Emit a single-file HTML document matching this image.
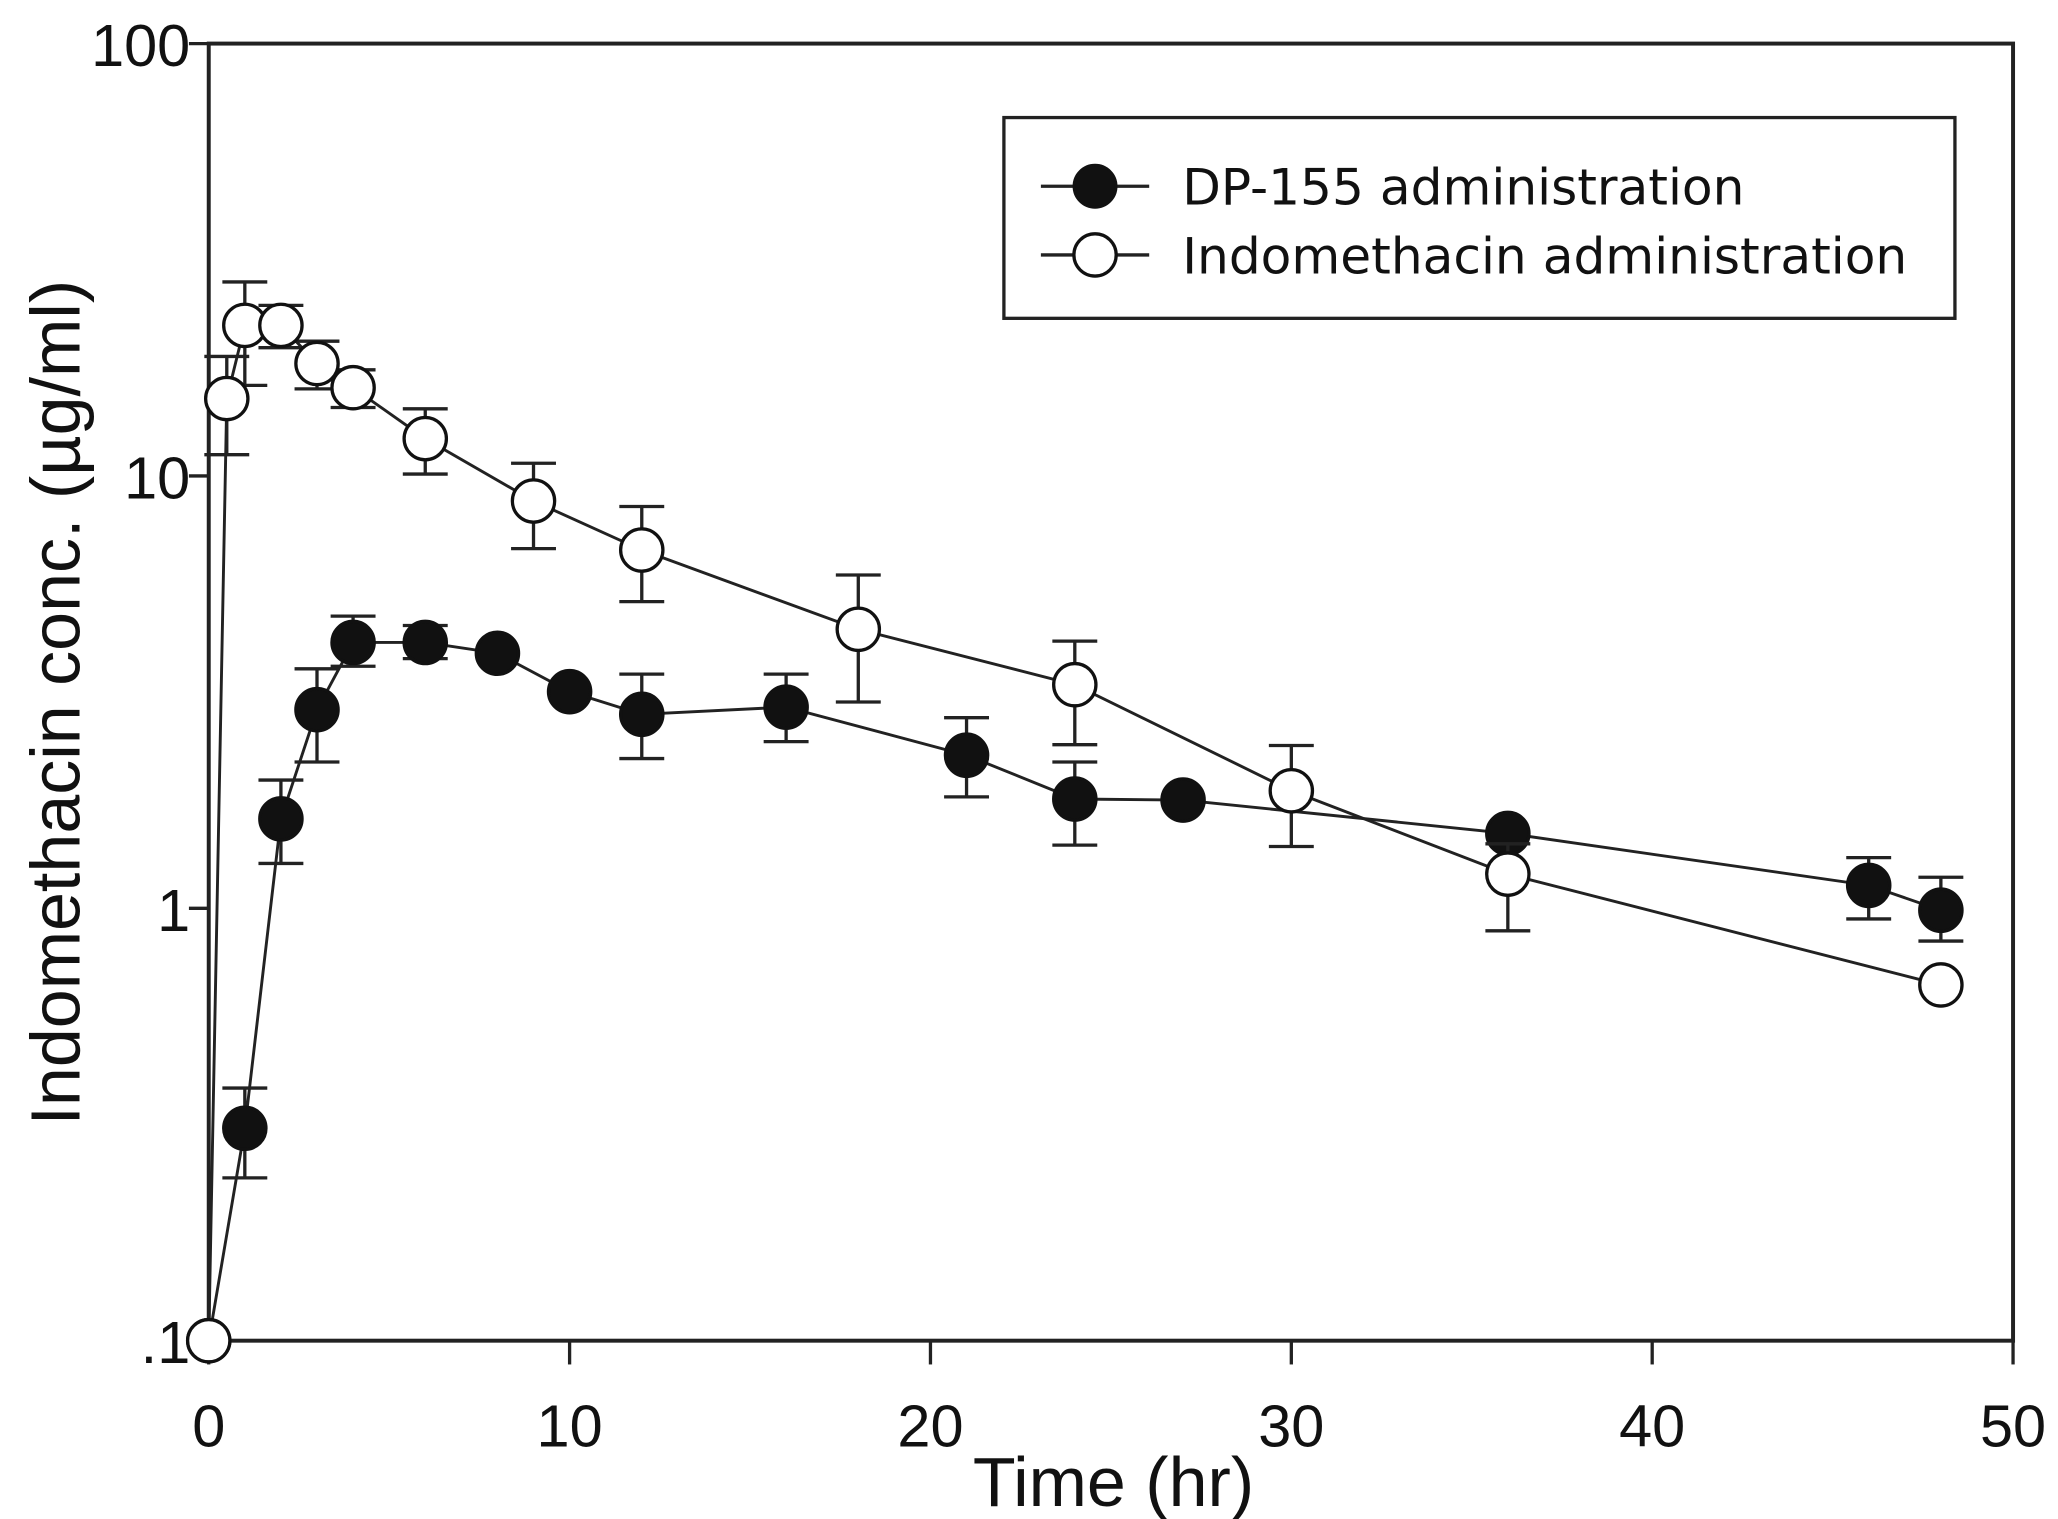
<!DOCTYPE html>
<html><head><meta charset="utf-8"><style>
html,body{margin:0;padding:0;background:#fff}
svg{display:block}
text{font-family:"Liberation Sans",sans-serif;fill:#111}
</style></head><body>
<svg id="chart" width="2058" height="1519" viewBox="0 0 1558 1150" xmlns="http://www.w3.org/2000/svg">
<g id="axes"></g>
<g id="series"></g>
<g id="legend">
<rect x="760" y="89" width="720" height="152" fill="#fff" stroke="#222" stroke-width="2.5"/>
<g>
<line x1="788" y1="141" x2="870" y2="141" stroke="#222" stroke-width="2.5"/>
<circle cx="829" cy="141" r="16" fill="#111" stroke="#111" stroke-width="2"/>
<text x="895" y="155" font-size="38" font-family="DejaVu Sans, sans-serif" style="font-family:'DejaVu Sans',sans-serif">DP-155 administration</text>
</g>
<g>
<line x1="788" y1="193" x2="870" y2="193" stroke="#222" stroke-width="2.5"/>
<circle cx="829" cy="193" r="16" fill="#fff" stroke="#111" stroke-width="2.5"/>
<text x="895" y="207" font-size="38" style="font-family:'DejaVu Sans',sans-serif">Indomethacin administration</text>
</g>
</g>
<text transform="translate(60,532) rotate(-90)" text-anchor="middle" font-size="53">Indomethacin conc. (µg/ml)</text>
<text x="843" y="1140" text-anchor="middle" font-size="53">Time (hr)</text>
</svg>
<script>
const xTicks=[0,10,20,30,40,50];
const yTicks=[0.1,1,10,100];
const yTickLabels=[".1","1","10","100"];
const dpTime=[0,1,2,3,4,6,8,10,12,16,21,24,27,36,46,48];
const dpConc=[0.1,0.31,1.61,2.88,4.12,4.12,3.89,3.17,2.81,2.92,2.26,1.79,1.78,1.49,1.13,0.99];
const dpHi=[0.1,0.384,1.98,3.58,4.74,4.51,3.89,3.17,3.48,3.48,2.76,2.18,1.78,1.49,1.31,1.18];
const dpLo=[0.1,0.238,1.27,2.18,3.63,3.78,3.89,3.17,2.22,2.43,1.81,1.40,1.78,1.49,0.945,0.84];
const inTime=[0,0.5,1,2,3,4,6,9,12,18,24,30,36,48];
const inConc=[0.1,15.1,22.3,22.3,18.2,16.0,12.2,8.75,6.74,4.42,3.29,1.87,1.20,0.665];
const inHi=[0.1,18.9,28.1,24.8,20.5,17.6,14.3,10.7,8.5,5.9,4.15,2.38,1.41,0.665];
const inLo=[0.1,11.2,16.2,19.8,15.9,14.4,10.1,6.79,5.12,3.0,2.39,1.39,0.887,0.665];

const NS="http://www.w3.org/2000/svg";
const X0=158,X1=1524,YT=33,YB=1015;
function xs(t){return X0+(t-0)/(50-0)*(X1-X0);}
function ys(v){return YB-(Math.log10(v)-Math.log10(0.1))/(Math.log10(100)-Math.log10(0.1))*(YB-YT);}
function mk(tag,attrs,parent){const e=document.createElementNS(NS,tag);for(const k in attrs)e.setAttribute(k,attrs[k]);parent.appendChild(e);return e;}
const axes=document.getElementById('axes');
const box=mk('rect',{x:X0,y:YT,width:X1-X0,height:YB-YT,fill:'none',stroke:'#222','stroke-width':3},axes);


xTicks.forEach(t=>{
  const l=mk('line',{x1:xs(t),y1:YB,x2:xs(t),y2:YB+18,stroke:'#222','stroke-width':2.5},axes);
  
  
  const tx=mk('text',{x:xs(t),y:YB+80,'text-anchor':'middle','font-size':45},axes);
  
  
  tx.textContent=t;
});
yTicks.forEach((v,i)=>{
  const l=mk('line',{x1:X0-15,y1:ys(v),x2:X0,y2:ys(v),stroke:'#222','stroke-width':2.5},axes);
  
  
  const tx=mk('text',{x:X0-14,y:ys(v)+17,'text-anchor':'end','font-size':45},axes);
  
  
  tx.textContent=yTickLabels[i];
});
const ser=document.getElementById('series');
function drawSeries(name,T,C,H,L,fill){
  const g=mk('g',{},ser);
  
  
  const pts=T.map((t,i)=>xs(t)+','+ys(C[i])).join(' ');
  const pl=mk('polyline',{points:pts,fill:'none',stroke:'#222','stroke-width':2.2},g);
  
  
  T.forEach((t,i)=>{
    const x=xs(t);
    if(H[i]!==L[i]){
      const eb=mk('path',{d:`M${x},${ys(H[i])}V${ys(L[i])}M${x-17},${ys(H[i])}h34M${x-17},${ys(L[i])}h34`,stroke:'#222','stroke-width':2.5,fill:'none'},g);
      
      
    }
  });
  T.forEach((t,i)=>{
    const c=mk('circle',{cx:xs(t),cy:ys(C[i]),r:16,fill:fill,stroke:'#111','stroke-width':2.5},g);
    
    
  });
}
drawSeries('dp155-series',dpTime,dpConc,dpHi,dpLo,'#111');
drawSeries('indomethacin-series',inTime,inConc,inHi,inLo,'#fff');
</script>
</body></html>
